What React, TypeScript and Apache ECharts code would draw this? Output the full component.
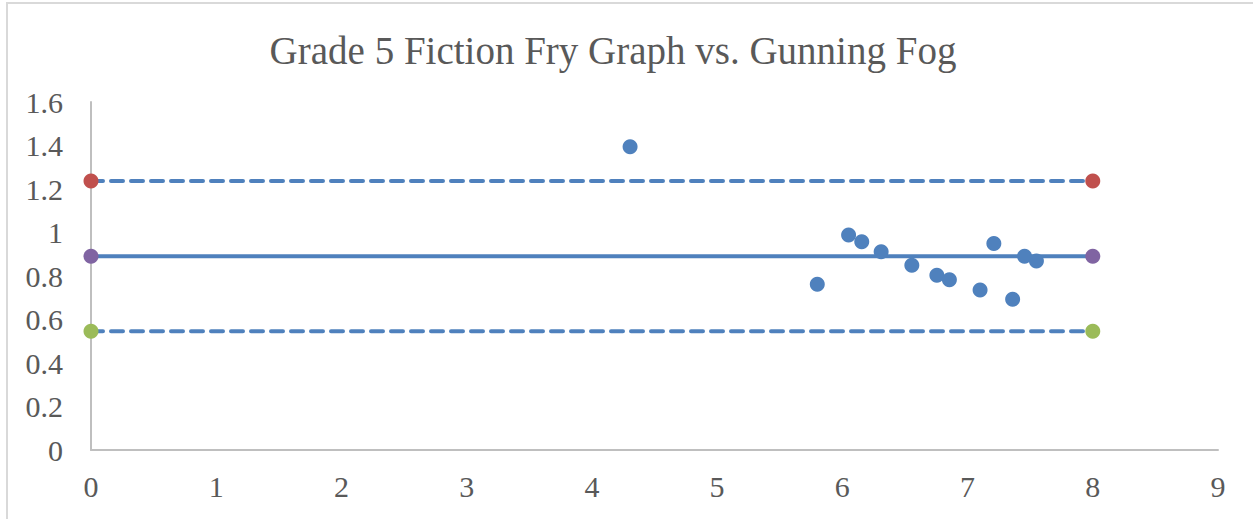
import React, { useEffect, useRef } from "react";
import * as echarts from "echarts";

const TITLE = "Grade 5 Fiction Fry Graph vs. Gunning Fog";

const fryX = [4.305, 5.8, 6.05, 6.155, 6.31, 6.555, 6.755, 6.855, 7.1, 7.21, 7.36, 7.455, 7.55];
const fogY = [1.394, 0.762, 0.988, 0.957, 0.912, 0.849, 0.803, 0.783, 0.736, 0.949, 0.693, 0.891, 0.869];

const lineX = [0, 8];
const meanValue = 0.891;
const upperValue = 1.237;
const lowerValue = 0.546;

const BLUE = "#4F81BD";
const FONT = "Liberation Serif, Times New Roman, serif";

export default function App() {
  const ref = useRef<HTMLDivElement>(null);

  useEffect(() => {
    if (!ref.current) return;
    const chart = echarts.init(ref.current, null, { renderer: "svg" });
    const hline = (v: number) => lineX.map((x) => [x, v]);
    chart.setOption({
      animation: false,
      backgroundColor: "#ffffff",
      title: {
        text: TITLE,
        left: 608,
        textAlign: "center",
        top: 26,
        textStyle: { fontFamily: FONT, fontSize: 39, fontWeight: "normal", color: "#595959" },
      },
      graphic: [
        {
          type: "rect",
          shape: { x: 7, y: 3, width: 1400, height: 700 },
          style: { fill: "none", stroke: "#D9D9D9", lineWidth: 2 },
          silent: true,
          z: -1,
        },
      ],
      grid: { left: 91, right: 35, top: 102, bottom: 69, containLabel: false },
      xAxis: {
        type: "value",
        min: 0,
        max: 9,
        interval: 1,
        splitLine: { show: false },
        axisTick: { show: false },
        axisLine: { show: true, lineStyle: { color: "#BFBFBF", width: 2 } },
        axisLabel: { fontFamily: FONT, fontSize: 30, color: "#595959", margin: 21 },
      },
      yAxis: {
        type: "value",
        min: 0,
        max: 1.6,
        interval: 0.2,
        splitLine: { show: false },
        axisTick: { show: false },
        axisLine: { show: true, lineStyle: { color: "#BFBFBF", width: 2 } },
        axisLabel: {
          fontFamily: FONT,
          fontSize: 30,
          color: "#595959",
          margin: 28,
          formatter: (v: number) => String(Math.round(v * 10) / 10),
        },
      },
      series: [
        {
          type: "line",
          data: hline(upperValue),
          symbol: "circle",
          symbolSize: 15,
          lineStyle: { color: BLUE, width: 4, type: [12, 8], cap: "round" },
          itemStyle: { color: "#C0504D" },
        },
        {
          type: "line",
          data: hline(meanValue),
          symbol: "circle",
          symbolSize: 15,
          lineStyle: { color: BLUE, width: 4 },
          itemStyle: { color: "#8064A2" },
        },
        {
          type: "line",
          data: hline(lowerValue),
          symbol: "circle",
          symbolSize: 15,
          lineStyle: { color: BLUE, width: 4, type: [12, 8], cap: "round" },
          itemStyle: { color: "#9BBB59" },
        },
        {
          type: "scatter",
          data: fryX.map((x, i) => [x, fogY[i]]),
          symbol: "circle",
          symbolSize: 15,
          itemStyle: { color: BLUE, opacity: 1 },
          z: 3,
        },
      ],
    });
    return () => chart.dispose();
  }, []);

  return (
    <div
      ref={ref}
      style={{ position: "fixed", left: 0, top: 0, width: 1253, height: 519 }}
    />
  );
}
